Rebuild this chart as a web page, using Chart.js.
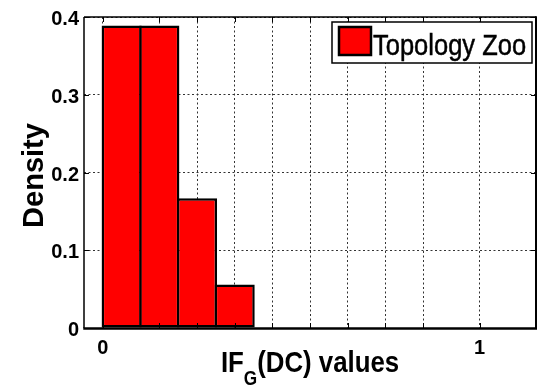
<!DOCTYPE html>
<html>
<head>
<meta charset="utf-8">
<script src="https://cdn.jsdelivr.net/npm/chart.js@4/dist/chart.umd.min.js"></script>
<style>
  html, body { margin: 0; padding: 0; background: #fff; }
  #wrap { width: 542px; height: 390px; }
</style>
</head>
<body>
<div id="wrap"><canvas id="c" width="542" height="390"></canvas></div>
<script>
// Histogram bins (centres) and their density values
const binCenters = [0.05, 0.15, 0.25, 0.35, 0.45, 0.55, 0.65, 0.75, 0.85, 0.95];
const density    = [0.389, 0.389, 0.167, 0.056, 0, 0, 0, 0, 0, 0];

// Axis ticks
const xTickValues = [0, 0.15, 0.25, 0.35, 0.45, 0.55, 0.65, 0.75, 0.85, 1];
const xTickLabels = { 0: '0', 1: '1' };
const yTickValues = [0, 0.1, 0.2, 0.3, 0.4];
const yTickLabels = { 0: '0', 0.1: '0.1', 0.2: '0.2', 0.3: '0.3', 0.4: '0.4' };

// Texts
const seriesName = 'Topology Zoo';
const xTitleMain = 'IF';
const xTitleSub = 'G';
const xTitleRest = '(DC) values';
const yTitle = 'Density';

const FONT = '"Liberation Sans", Arial, Helvetica, sans-serif';

// Frame, inward tick marks, legend box and axis titles
const decorations = {
  id: 'decorations',
  afterDatasetsDraw(chart) {
    const { ctx, chartArea: a, scales: { x, y } } = chart;
    ctx.save();
    ctx.strokeStyle = '#000';
    // inward ticks on all four sides
    ctx.lineWidth = 1;
    ctx.beginPath();
    xTickValues.forEach(v => {
      const px = Math.round(x.getPixelForValue(v)) + 0.5;
      ctx.moveTo(px, a.bottom); ctx.lineTo(px, a.bottom - 5);
      ctx.moveTo(px, a.top); ctx.lineTo(px, a.top + 5);
    });
    yTickValues.forEach(v => {
      const py = Math.round(y.getPixelForValue(v)) + 0.5;
      ctx.moveTo(a.left, py); ctx.lineTo(a.left + 5, py);
      ctx.moveTo(a.right, py); ctx.lineTo(a.right - 5, py);
    });
    ctx.stroke();
    // frame
    ctx.lineWidth = 1.5;
    ctx.beginPath();
    ctx.moveTo(a.left, a.top); ctx.lineTo(a.right, a.top);
    ctx.moveTo(a.left, a.top); ctx.lineTo(a.left, a.bottom);
    ctx.stroke();
    ctx.lineWidth = 2;
    ctx.beginPath();
    ctx.moveTo(a.right, a.top - 0.75); ctx.lineTo(a.right, a.bottom);
    ctx.stroke();
    ctx.lineWidth = 2.5;
    ctx.beginPath();
    ctx.moveTo(a.left - 0.75, a.bottom + 0.5); ctx.lineTo(a.right + 1, a.bottom + 0.5);
    ctx.stroke();

    // legend
    const ds = chart.data.datasets[0];
    const lx = a.right - 204, ly = a.top + 5, lw = 200, lh = 41;
    ctx.fillStyle = '#fff';
    ctx.fillRect(lx, ly, lw, lh);
    ctx.lineWidth = 1.5;
    ctx.strokeRect(lx, ly, lw, lh);
    ctx.fillStyle = ds.backgroundColor;
    ctx.fillRect(lx + 7, ly + 5, 32, 28);
    ctx.lineWidth = 2.5;
    ctx.strokeRect(lx + 7, ly + 5, 32, 28);
    ctx.fillStyle = '#000';
    ctx.font = '30px ' + FONT;
    ctx.textBaseline = 'alphabetic';
    ctx.textAlign = 'left';
    ctx.save();
    ctx.translate(lx + 41, ly + 33);
    ctx.scale(0.85, 1);
    ctx.lineWidth = 0.5;
    ctx.fillText(ds.label, 0, 0);
    ctx.strokeText(ds.label, 0, 0);
    ctx.restore();
    ctx.restore();
  },
  afterDraw(chart) {
    const { ctx, chartArea: a } = chart;
    ctx.save();
    ctx.fillStyle = '#000';
    ctx.textBaseline = 'alphabetic';
    // x title with subscript
    const sx = 0.86;
    const big = 'bold 30px ' + FONT, small = 'bold 20px ' + FONT;
    ctx.font = big;
    const w1 = ctx.measureText(xTitleMain).width;
    const w3 = ctx.measureText(xTitleRest).width;
    ctx.font = small;
    const w2 = ctx.measureText(xTitleSub).width;
    const total = (w1 + w2 + w3) * sx;
    const cx = (a.left + a.right) / 2;
    const base = a.bottom + 44;
    ctx.save();
    ctx.translate(cx - total / 2, base);
    ctx.scale(sx, 1);
    ctx.textAlign = 'left';
    ctx.font = big;
    ctx.fillText(xTitleMain, 0, 0);
    ctx.font = small;
    ctx.fillText(xTitleSub, w1, 13);
    ctx.font = big;
    ctx.fillText(xTitleRest, w1 + w2, 0);
    ctx.restore();
    // y title
    ctx.save();
    ctx.translate(a.left - 41, (a.top + a.bottom) / 2 + 3);
    ctx.rotate(-Math.PI / 2);
    ctx.textAlign = 'center';
    ctx.font = 'bold 29px ' + FONT;
    ctx.fillText(yTitle, 0, 0);
    ctx.restore();
    ctx.restore();
  }
};

const tickFont = { family: FONT, weight: 'bold', size: 20 };

new Chart(document.getElementById('c'), {
  type: 'bar',
  data: {
    datasets: [{
      label: seriesName,
      data: binCenters.map((c, i) => ({ x: c, y: density[i] })),
      backgroundColor: '#ff0000',
      borderColor: '#000',
      borderWidth: 2.5,
      borderSkipped: false,
      // slightly wider than the bin so neighbouring outlines merge into one edge
      barPercentage: 1.066,
      categoryPercentage: 1
    }]
  },
  options: {
    responsive: false,
    animation: false,
    devicePixelRatio: 1,
    layout: { padding: { top: 14, right: 6, left: 0, bottom: 0 } },
    plugins: { legend: { display: false }, tooltip: { enabled: false } },
    scales: {
      x: {
        type: 'linear',
        offset: false,
        min: -0.05,
        max: 1.15,
        afterBuildTicks: s => { s.ticks = xTickValues.map(v => ({ value: v })); },
        afterFit: s => { s.height = 62; },
        grid: { drawTicks: false, offset: false, color: '#333', lineWidth: 1 },
        border: { display: false, dash: [2, 2.5] },
        ticks: {
          autoSkip: false, maxRotation: 0, padding: 8, color: '#000', font: tickFont,
          callback: v => (xTickLabels[v] !== undefined ? xTickLabels[v] : '')
        }
      },
      y: {
        min: 0,
        max: 0.4,
        afterBuildTicks: s => { s.ticks = yTickValues.map(v => ({ value: v })); },
        afterFit: s => { s.width = 84; },
        grid: { drawTicks: false, color: '#333', lineWidth: 1 },
        border: { display: false, dash: [2, 2.5] },
        ticks: {
          padding: 5, labelOffset: 2.5, color: '#000', font: tickFont,
          callback: v => (yTickLabels[v] !== undefined ? yTickLabels[v] : '')
        }
      }
    }
  },
  plugins: [decorations]
});
</script>
</body>
</html>
